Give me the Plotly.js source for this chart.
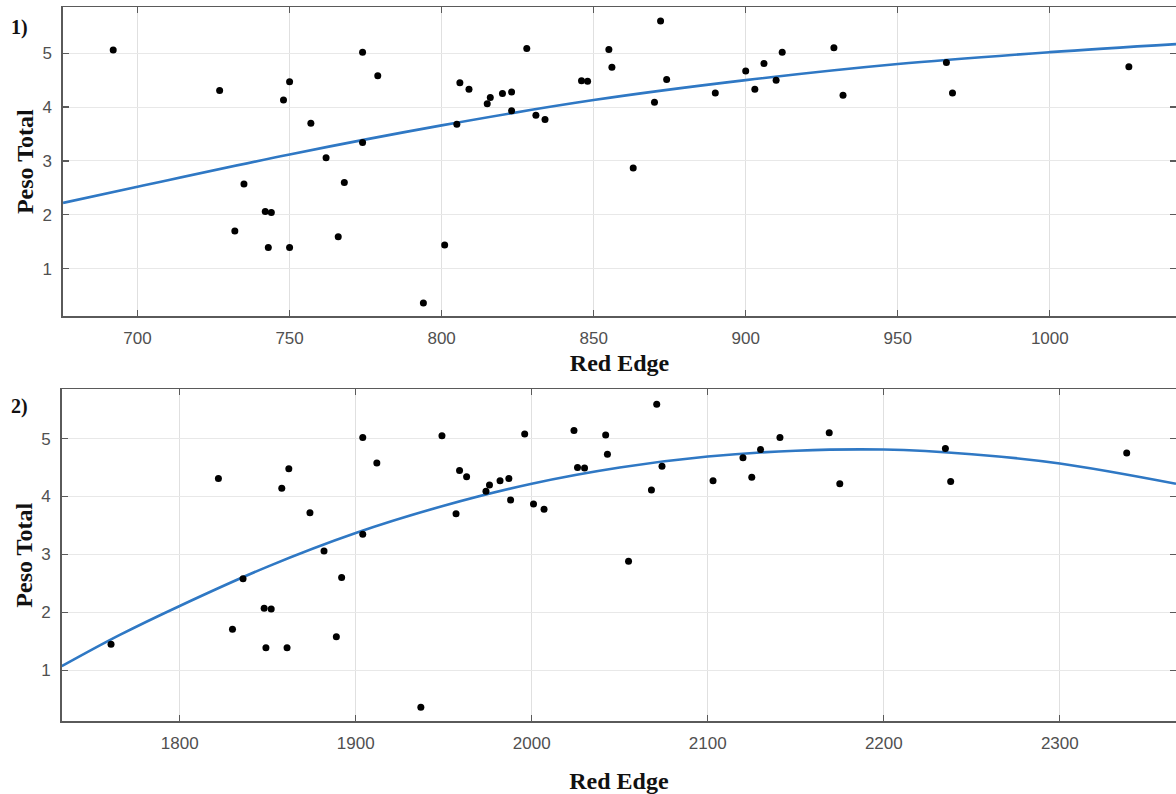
<!DOCTYPE html>
<html>
<head>
<meta charset="utf-8">
<script src="https://cdn.plot.ly/plotly-3.0.1.min.js"></script>
<style>html,body{margin:0;padding:0;background:#fff}#chart{width:1176px;height:794px}</style>
</head>
<body>
<div id="chart"></div>
<script>
// Panel 1: Red Edge (700-1000 scale) vs Peso Total
const redEdge1 = [692, 727, 750, 748, 774, 779, 757, 774, 762, 768, 735, 742, 744, 732, 743, 750, 766,
  806, 809, 805, 801, 794, 815, 816, 820, 823, 823, 828, 831, 834, 846, 848, 855, 856, 863, 872, 870, 874,
  890, 900, 903, 906, 910, 912, 929, 932, 966, 968, 1026];
const peso1 = [5.06, 4.31, 4.47, 4.13, 5.02, 4.58, 3.70, 3.34, 3.06, 2.60, 2.57, 2.06, 2.04, 1.70, 1.39, 1.39, 1.59,
  4.45, 4.33, 3.68, 1.44, 0.36, 4.06, 4.18, 4.25, 4.28, 3.93, 5.09, 3.85, 3.77, 4.49, 4.48, 5.07, 4.74, 2.87, 5.60, 4.09, 4.51,
  4.26, 4.67, 4.33, 4.81, 4.50, 5.02, 5.10, 4.22, 4.83, 4.26, 4.75];
// Fitted curve, panel 1
const fitX1 = [675.5, 700, 750, 800, 850, 900, 950, 1000, 1041.5];
const fitY1 = [2.22, 2.52, 3.12, 3.66, 4.13, 4.50, 4.80, 5.02, 5.17];

// Panel 2: Red Edge (1800-2300 scale) vs Peso Total
const redEdge2 = [1761, 1822, 1830, 1836, 1848, 1852, 1849, 1861, 1858, 1862, 1874, 1882, 1892, 1889, 1904, 1904, 1912,
  1949, 1959, 1963, 1957, 1937, 1974, 1976, 1982, 1987, 1988, 1996, 2001, 2007, 2024, 2026, 2030, 2042, 2043, 2055, 2071, 2068, 2074,
  2103, 2120, 2125, 2130, 2141, 2169, 2175, 2235, 2238, 2338];
const peso2 = [1.45, 4.31, 1.71, 2.58, 2.07, 2.06, 1.39, 1.39, 4.14, 4.48, 3.72, 3.06, 2.60, 1.58, 5.02, 3.35, 4.58,
  5.05, 4.45, 4.34, 3.70, 0.36, 4.09, 4.20, 4.27, 4.31, 3.94, 5.08, 3.87, 3.78, 5.14, 4.50, 4.49, 5.06, 4.73, 2.88, 5.59, 4.11, 4.52,
  4.27, 4.67, 4.33, 4.81, 5.02, 5.10, 4.22, 4.83, 4.26, 4.75];
// Fitted curve, panel 2
const fitX2 = [1733, 1766, 1800, 1850, 1900, 1950, 2000, 2050, 2100, 2150, 2200, 2250, 2300, 2366];
const fitY2 = [1.07, 1.61, 2.11, 2.79, 3.37, 3.84, 4.22, 4.50, 4.69, 4.79, 4.81, 4.73, 4.57, 4.22];

const xTitle = 'Red Edge';
const yTitle = 'Peso Total';
const panelLabels = ['1)', '2)'];

const dotStyle = {color: '#000000', size: 7};
const lineStyle = {color: '#2f78c4', width: 2.6, shape: 'spline', smoothing: 1};

const data = [
  {x: fitX1, y: fitY1, type: 'scatter', mode: 'lines', line: lineStyle, xaxis: 'x', yaxis: 'y', hoverinfo: 'skip'},
  {x: redEdge1, y: peso1, type: 'scatter', mode: 'markers', marker: dotStyle, xaxis: 'x', yaxis: 'y'},
  {x: fitX2, y: fitY2, type: 'scatter', mode: 'lines', line: lineStyle, xaxis: 'x2', yaxis: 'y2', hoverinfo: 'skip'},
  {x: redEdge2, y: peso2, type: 'scatter', mode: 'markers', marker: dotStyle, xaxis: 'x2', yaxis: 'y2'}
];

const tickFont = {family: 'Liberation Sans, Arial, sans-serif', size: 17, color: '#505050'};
const titleFont = {family: 'Liberation Serif, Times New Roman, serif', size: 24, color: '#111111'};

function xAxis(domain, range, dtick, anchor, standoff) {
  return {
    domain: domain, range: range, anchor: anchor, dtick: dtick, tick0: 0,
    showgrid: true, gridcolor: '#e0e0e0', gridwidth: 1, zeroline: false,
    showline: true, linecolor: '#5a5a5a', linewidth: 1.6, mirror: 'ticks',
    ticks: 'inside', ticklen: 6, tickcolor: '#5a5a5a', tickwidth: 1.2,
    tickfont: tickFont, ticklabelstandoff: 6,
    title: {text: '<b>' + xTitle + '</b>', font: titleFont, standoff: standoff},
    automargin: false
  };
}
function yAxis(domain, anchor) {
  return {
    domain: domain, range: [0.12, 5.85], anchor: anchor, tickvals: [1, 2, 3, 4, 5],
    showgrid: true, gridcolor: '#e8e8e8', gridwidth: 1, zeroline: false,
    showline: true, linecolor: '#5a5a5a', linewidth: 1.6, mirror: 'ticks',
    ticks: 'inside', ticklen: 6, tickcolor: '#5a5a5a', tickwidth: 1.2,
    tickfont: tickFont, ticklabelstandoff: 6,
    title: {text: '<b>' + yTitle + '</b>', font: titleFont, standoff: 2},
    automargin: false
  };
}

const layout = {
  width: 1176, height: 794,
  margin: {l: 0, r: 0, t: 0, b: 0},
  paper_bgcolor: '#ffffff', plot_bgcolor: '#ffffff',
  showlegend: false,
  xaxis: xAxis([0.0536, 1.0], [675.5, 1041.5], 50, 'y', 7),
  yaxis: yAxis([0.602, 0.9906], 'x'),
  xaxis2: xAxis([0.0525, 1.0], [1733, 2366], 100, 'y2', 21),
  yaxis2: yAxis([0.0916, 0.5097], 'x2'),
  annotations: [
    {text: '<b>' + panelLabels[0] + '</b>', xref: 'paper', yref: 'paper', x: 9 / 1176, y: 1 - 28 / 794,
     xanchor: 'left', yanchor: 'middle', showarrow: false,
     font: {family: 'Liberation Serif, Times New Roman, serif', size: 20, color: '#111111'}},
    {text: '<b>' + panelLabels[1] + '</b>', xref: 'paper', yref: 'paper', x: 9 / 1176, y: 1 - 406 / 794,
     xanchor: 'left', yanchor: 'middle', showarrow: false,
     font: {family: 'Liberation Serif, Times New Roman, serif', size: 20, color: '#111111'}}
  ]
};

Plotly.newPlot('chart', data, layout, {displayModeBar: false, staticPlot: true});
</script>
</body>
</html>
